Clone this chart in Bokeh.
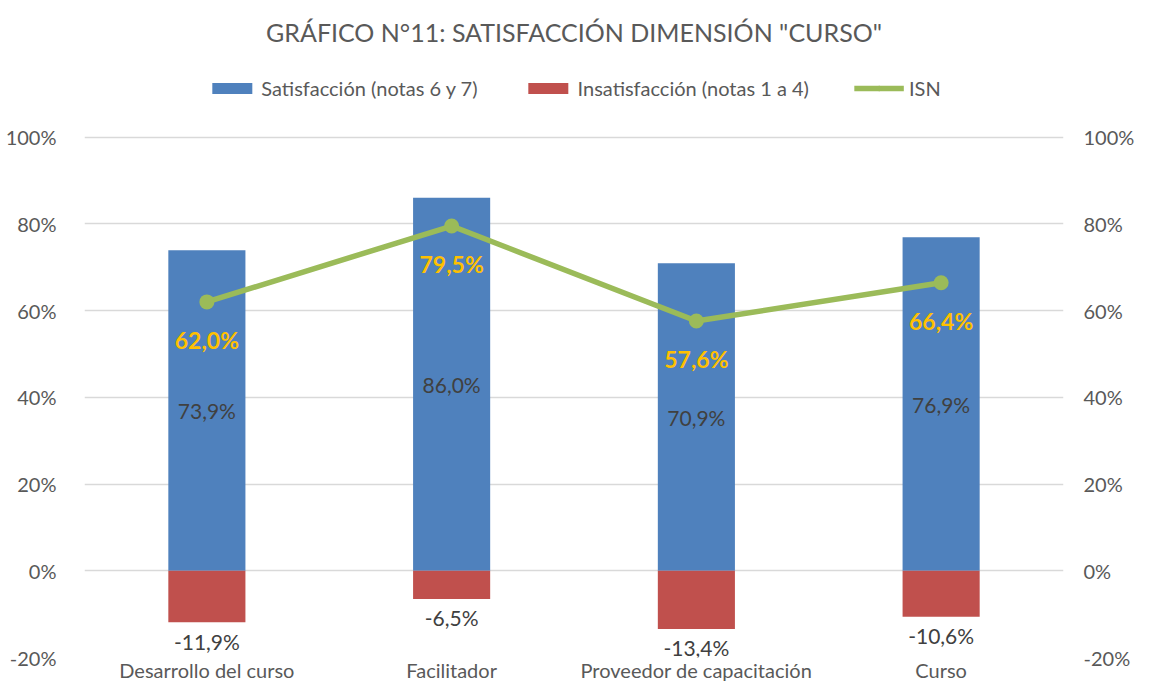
from bokeh.plotting import figure
from bokeh.models import (ColumnDataSource, FactorRange, FixedTicker, LinearAxis,
                          Legend, LegendItem, CustomJSTickFormatter, Title, Range1d)
from bokeh.core.properties import value
from bokeh.embed import file_html
from bokeh.resources import INLINE

categories = ["Desarrollo del curso", "Facilitador", "Proveedor de capacitación", "Curso"]
satisfaccion = [73.9, 86.0, 70.9, 76.9]
insatisfaccion = [-11.9, -6.5, -13.4, -10.6]
isn = [62.0, 79.5, 57.6, 66.4]
y_ticks = [-20, 0, 20, 40, 60, 80, 100]

FONT = "Lato"
GRAY = "#595959"
BLUE = "#4F81BD"
RED = "#C0504D"
GREEN = "#9BBB59"
ORANGE = "#FFC000"

FRAME_TOP = 58
FRAME_BOTTOM = 684 - 24
PX_PER_UNIT = (FRAME_BOTTOM - 137) / 120.0
Y_TOP = 100 + (137 - FRAME_TOP) / PX_PER_UNIT


def fmt(v):
    return f"{v:.1f}%".replace(".", ",")


src = ColumnDataSource(dict(
    cat=categories,
    sat=satisfaccion,
    ins=insatisfaccion,
    isn=isn,
    sat_mid=[v / 2 for v in satisfaccion],
    sat_lbl=[fmt(v) for v in satisfaccion],
    ins_lbl=[fmt(v) for v in insatisfaccion],
    isn_lbl=[fmt(v) for v in isn],
))

p = figure(width=1137, height=684, output_backend="svg", toolbar_location=None,
           x_range=FactorRange(*categories, range_padding=0), y_range=Range1d(-20, Y_TOP),
           min_border_left=84, min_border_right=64, min_border_top=FRAME_TOP, min_border_bottom=24)
p.outline_line_color = None
p.background_fill_color = "white"
p.border_fill_color = "white"

r_sat = p.vbar(x="cat", top="sat", bottom=0, width=0.315, source=src, fill_color=BLUE, line_color=None)
r_ins = p.vbar(x="cat", top=0, bottom="ins", width=0.315, source=src, fill_color=RED, line_color=None)
r_line = p.line(x="cat", y="isn", source=src, line_color=GREEN, line_width=5.5)
r_pts = p.scatter(x="cat", y="isn", source=src, size=15, fill_color=GREEN, line_color=None)

p.text(x="cat", y="sat_mid", text="sat_lbl", source=src, text_align="center", text_baseline="middle",
       text_font=value(FONT), text_font_size="21px", text_color="#404040")
p.text(x="cat", y="ins", text="ins_lbl", source=src, text_align="center", text_baseline="middle",
       y_offset=19, text_font=value(FONT), text_font_size="21px", text_color="#404040")
p.text(x="cat", y="isn", text="isn_lbl", source=src, text_align="center", text_baseline="middle",
       y_offset=38, text_font=value(FONT), text_font_size="23px", text_font_style="bold",
       text_color=ORANGE)

formatter = CustomJSTickFormatter(code="return tick + '%';")

p.yaxis.ticker = FixedTicker(ticks=y_ticks)
p.yaxis.formatter = formatter
right = LinearAxis(ticker=FixedTicker(ticks=y_ticks), formatter=formatter)
p.add_layout(right, "right")
for ax in (p.yaxis + [right]):
    ax.axis_line_color = None
    ax.major_tick_line_color = None
    ax.minor_tick_line_color = None
    ax.major_label_text_font = FONT
    ax.major_label_text_font_size = "20px"
    ax.major_label_text_color = GRAY
p.yaxis[0].major_label_standoff = 22
right.major_label_standoff = 14

p.xaxis.axis_line_color = None
p.xaxis.major_tick_line_color = None
p.xaxis.major_tick_out = 0
p.xaxis.major_tick_in = 0
p.xaxis.major_label_text_font = FONT
p.xaxis.major_label_text_font_size = "20px"
p.xaxis.major_label_text_color = GRAY
p.xaxis.major_label_standoff = 0

p.xgrid.grid_line_color = None
p.ygrid.ticker = FixedTicker(ticks=y_ticks)
p.ygrid.grid_line_color = "#D9D9D9"
p.ygrid.grid_line_width = 1.5

legend = Legend(items=[
    LegendItem(label="Satisfacción (notas 6 y 7)", renderers=[r_sat]),
    LegendItem(label="Insatisfacción (notas 1 a 4)", renderers=[r_ins]),
    LegendItem(label="ISN", renderers=[r_line, r_pts]),
], orientation="horizontal", location="top_center", border_line_color=None,
    background_fill_alpha=0, label_text_font=FONT, label_text_font_size="20px",
    label_text_color=GRAY, glyph_width=50, glyph_height=14, label_standoff=5,
    spacing=45, margin=18, padding=0)
p.add_layout(legend)

p.title = Title(text='GRÁFICO N°11: SATISFACCIÓN DIMENSIÓN "CURSO"', align="center",
                vertical_align="top",
                text_font=FONT, text_font_size="25px", text_font_style="normal",
                text_color=GRAY, standoff=19)

open("out.html", "w").write(file_html(p, INLINE))
